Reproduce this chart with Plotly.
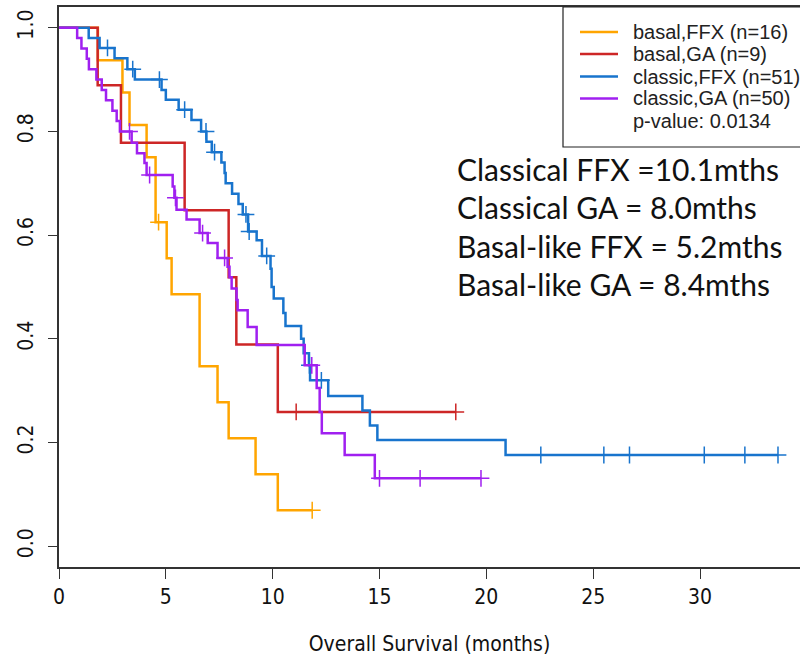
import numpy as np
import plotly.graph_objects as go

# ---- data (months, survival probability) ----
orange_t = [0, 1.82, 2.97, 3.3, 4.1, 4.52, 5.04, 5.27, 6.58, 7.42, 7.94, 9.2, 10.24]
orange_s = [1, 0.9375, 0.875, 0.8125, 0.75, 0.625, 0.5556, 0.4861, 0.3472, 0.2778, 0.2083, 0.1389, 0.0694]
orange_c = [4.66, 11.85]

red_t = [0, 1.81, 2.9, 5.88, 7.94, 8.3, 10.24]
red_s = [1, 0.889, 0.778, 0.648, 0.519, 0.389, 0.259]
red_c = [11.1, 18.57]

blue_t = [0, 1.39, 1.9, 2.6, 3.2, 3.55, 4.8, 5.0, 5.6, 6.2, 6.65, 6.9, 7.15, 7.6, 7.75, 7.8,
          8.1, 8.4, 8.6, 8.85, 9.25, 9.5, 9.9, 9.95, 10.05, 10.5, 10.6, 11.33, 11.45, 11.7,
          11.75, 12.6, 14.2, 14.55, 14.9, 20.9]
blue_s = [1, 0.98, 0.961, 0.941, 0.92, 0.90, 0.88, 0.861, 0.842, 0.822, 0.80, 0.78, 0.76, 0.74,
          0.72, 0.70, 0.68, 0.66, 0.64, 0.607, 0.59, 0.56, 0.535, 0.50, 0.478, 0.45, 0.425, 0.40,
          0.372, 0.349, 0.32, 0.29, 0.262, 0.233, 0.205, 0.176]
blue_c = [2.27, 3.45, 4.7, 5.88, 6.88, 7.28, 8.75, 8.9, 9.72, 11.72, 12.28,
          22.55, 25.5, 26.7, 30.2, 32.1, 33.65]

purple_t = [0, 0.85, 1.05, 1.3, 1.4, 1.75, 2.0, 2.2, 2.5, 2.7, 2.85, 3.4, 3.65, 4.0, 4.1,
            5.32, 5.4, 5.5, 5.97, 6.58, 6.96, 7.42, 7.89, 7.98, 8.08, 8.31, 8.36, 8.83, 9.25,
            11.5, 12.06, 12.2, 12.3, 13.37, 14.78]
purple_s = [1, 0.98, 0.96, 0.94, 0.92, 0.90, 0.88, 0.86, 0.84, 0.82, 0.80, 0.778, 0.758, 0.739,
            0.716, 0.694, 0.672, 0.649, 0.63, 0.604, 0.585, 0.556, 0.539, 0.519, 0.497, 0.475,
            0.455, 0.423, 0.388, 0.349, 0.305, 0.259, 0.218, 0.176, 0.131]
purple_c = [3.3, 4.24, 5.45, 6.72, 7.75, 11.83, 15.0, 16.9, 19.75]

names = ["basal,FFX (n=16)", "basal,GA (n=9)", "classic,FFX (n=51)", "classic,GA (n=50)"]
colors = ["#FFA500", "#CD2626", "#1874CD", "#A020F0"]
pvalue_label = "p-value: 0.0134"

medians = ["Classical FFX =10.1mths", "Classical GA = 8.0mths",
           "Basal-like FFX = 5.2mths", "Basal-like GA = 8.4mths"]

x_ticks = [0, 5, 10, 15, 20, 25, 30]
y_ticks = [0.0, 0.2, 0.4, 0.6, 0.8, 1.0]

groups = [(orange_t, orange_s, orange_c), (red_t, red_s, red_c),
          (blue_t, blue_s, blue_c), (purple_t, purple_s, purple_c)]

# plot-area geometry (pixels) used to place the legend / text blocks
L, T, W, H = 59, 7, 741, 560
def px(x):
    return (x - L) / W
def py(y):
    return (T + H - y) / H

fig = go.Figure()
for (t, s, c), name, col in zip(groups, names, colors):
    t = np.asarray(t, float)
    s = np.asarray(s, float)
    c = np.asarray(c, float)
    end = max(t.max(), c.max())
    xs = np.append(t, end)
    ys = np.append(s, s[-1])
    fig.add_trace(go.Scatter(x=xs, y=ys, mode="lines", line_shape="hv",
                             line=dict(color=col, width=2.5), name=name, showlegend=False))
    idx = np.searchsorted(t, c, side="right") - 1
    fig.add_trace(go.Scatter(x=c, y=s[idx], mode="markers", showlegend=False,
                             marker=dict(symbol="cross-thin", size=12,
                                         line=dict(color=col, width=1.5)),
                             hoverinfo="skip"))

tick_font = dict(family="Liberation Sans Narrow, DejaVu Sans Condensed, Arial Narrow, sans-serif",
                 size=21, color="#111")

fig.update_layout(
    width=800, height=662,
    margin=dict(l=L, r=0, t=T, b=662 - T - H),
    paper_bgcolor="white", plot_bgcolor="white",
    showlegend=False,
    xaxis=dict(range=[0, 34.68], tickvals=x_ticks, ticks="outside", ticklen=10, tickwidth=1.3,
               tickcolor="#333", showline=True, linecolor="#333", linewidth=1.5, mirror=True,
               showgrid=False, zeroline=False, tickfont=tick_font,
               title=dict(text="Overall Survival (months)", font=tick_font, standoff=28)),
    yaxis=dict(range=[-0.04, 1.04], tickvals=y_ticks, ticktext=[f"{v:.1f}" for v in y_ticks],
               ticks="outside", ticklen=9, tickwidth=1.3, tickcolor="#333",
               showline=True, linecolor="#333", linewidth=1.5, showgrid=False, zeroline=False,
               tickangle=-90, tickfont=tick_font, ticklabelstandoff=7),
)

# legend frame (extends past the right edge as in the reference)
fig.add_shape(type="rect", xref="paper", yref="paper", x0=px(563), x1=1.2,
              y0=py(147), y1=1.0, line=dict(color="#222", width=1.2))

leg_rows = [32, 54, 76.5, 98.5, 121]
for name, col, yy in zip(names, colors, leg_rows):
    fig.add_shape(type="line", xref="paper", yref="paper", x0=px(580), x1=px(618),
                  y0=py(yy), y1=py(yy), line=dict(color=col, width=2.4))
for txt, yy in zip(names + [pvalue_label], leg_rows):
    fig.add_annotation(xref="paper", yref="paper", x=px(631), y=py(yy), xanchor="left",
                       yanchor="middle", text=txt, showarrow=False,
                       font=dict(family="Liberation Sans, Arial, sans-serif", size=20, color="#222"))

ann_rows = [169, 207, 246, 284]
for txt, yy in zip(medians, ann_rows):
    fig.add_annotation(xref="paper", yref="paper", x=px(455), y=py(yy), xanchor="left",
                       yanchor="middle", text=txt, showarrow=False,
                       font=dict(family="Lato, Carlito, Open Sans, sans-serif", size=30, color="#111"))

fig.write_html("out.html")
